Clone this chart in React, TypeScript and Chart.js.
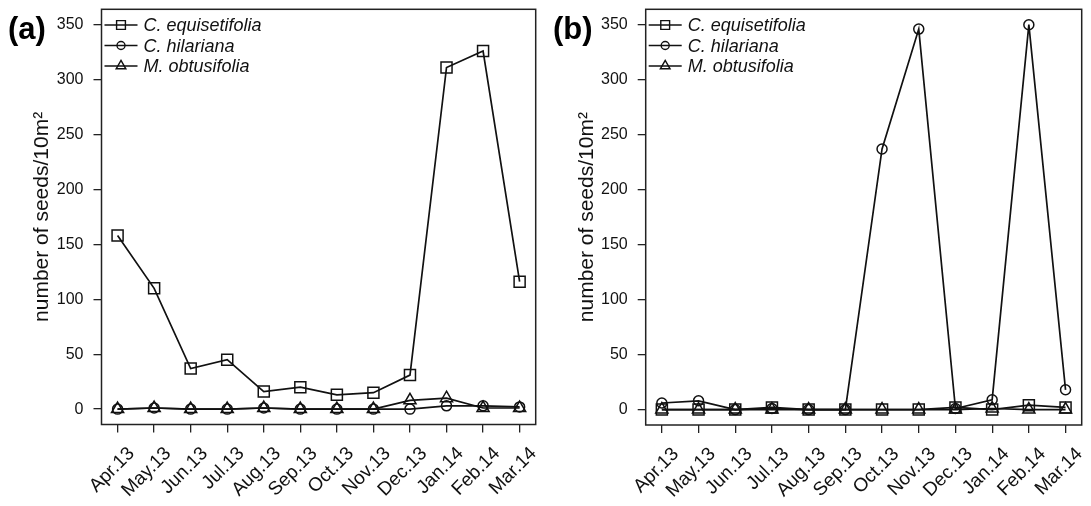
import React, { useEffect, useRef } from 'react';
import { Chart, registerables } from 'chart.js';

Chart.register(...registerables);

// ---------- data ----------
const months = ['Apr.13', 'May.13', 'Jun.13', 'Jul.13', 'Aug.13', 'Sep.13', 'Oct.13', 'Nov.13', 'Dec.13', 'Jan.14', 'Feb.14', 'Mar.14'];
const yTicks = [0, 50, 100, 150, 200, 250, 300, 350];
const seriesNames = ['C. equisetifolia', 'C. hilariana', 'M. obtusifolia'];
const panelLabels = ['(a)', '(b)'];
const yTitle = 'number of seeds/10m²';

// panel (a)
const equisetifoliaA = [158, 110, 37, 45, 16, 20, 13, 15, 31, 311, 326, 116];
const hilarianaA = [0, 1, 0, 0, 1, 0, 0, 0, 0, 3, 3, 2];
const obtusifoliaA = [0, 1, 0, 0, 1, 0, 0, 0, 8, 10, 1, 1];

// panel (b)
const equisetifoliaB = [0, 0, 0, 2, 0, 0, 0, 0, 2, 0, 4, 2];
const hilarianaB = [6, 8, 0, 1, 0, 0, 237, 346, 1, 9, 350, 18];
const obtusifoliaB = [0, 0, 0, 0, 0, 0, 0, 0, 0, 1, 0, 0];

// ---------- styles ----------
const FONT = '"Liberation Sans", Arial, Helvetica, sans-serif';
const INK = '#111';
const markerStyles = ['rect', 'circle', 'triangle'];
const markerRadii = [7.8, 5, 7];

Chart.defaults.font.family = FONT;

type Geo = { canvasLeft: number; canvasWidth: number; areaLeft: number; areaRight: number; areaTop: number; areaBottom: number };

const geos: Geo[] = [
  { canvasLeft: 0, canvasWidth: 545, areaLeft: 101.5, areaRight: 538.5, areaTop: 5, areaBottom: 424.5 },
  { canvasLeft: 545, canvasWidth: 546, areaLeft: 100.7, areaRight: 537, areaTop: 5, areaBottom: 425 },
];

function drawMarker(ctx: CanvasRenderingContext2D, style: string, x: number, y: number, r: number) {
  ctx.beginPath();
  if (style === 'rect') {
    const s = Math.SQRT1_2 * r;
    ctx.rect(x - s, y - s, 2 * s, 2 * s);
  } else if (style === 'circle') {
    ctx.arc(x, y, r, 0, Math.PI * 2);
  } else {
    let rad = 0;
    ctx.moveTo(x + Math.sin(rad) * r, y - Math.cos(rad) * r);
    rad += (2 * Math.PI) / 3;
    ctx.lineTo(x + Math.sin(rad) * r, y - Math.cos(rad) * r);
    rad += (2 * Math.PI) / 3;
    ctx.lineTo(x + Math.sin(rad) * r, y - Math.cos(rad) * r);
    ctx.closePath();
  }
  ctx.stroke();
}

function makePlugin(panelIndex: number) {
  return {
    id: 'panelDecor' + panelIndex,
    afterDraw(chart: any) {
      const ctx: CanvasRenderingContext2D = chart.ctx;
      const a = chart.chartArea;
      ctx.save();
      // frame
      ctx.strokeStyle = '#222';
      ctx.lineWidth = 1.5;
      ctx.strokeRect(a.left, a.top, a.right - a.left, a.bottom - a.top);

      // legend
      const rows = [25, 45.5, 66];
      ctx.font = 'italic 18px ' + FONT;
      ctx.textBaseline = 'middle';
      ctx.textAlign = 'left';
      seriesNames.forEach((name, i) => {
        const y = rows[i];
        const x0 = a.left + 3;
        const x1 = a.left + 36;
        ctx.strokeStyle = INK;
        ctx.lineWidth = 1.6;
        ctx.beginPath();
        ctx.moveTo(x0, y);
        ctx.lineTo(x1, y);
        ctx.stroke();
        ctx.lineWidth = 1.4;
        drawMarker(ctx, markerStyles[i], (x0 + x1) / 2, y, markerRadii[i] * 0.8);
        ctx.fillStyle = INK;
        ctx.fillText(name, a.left + 42, y + 1);
      });

      // panel label
      ctx.font = 'bold 31px ' + FONT;
      ctx.textBaseline = 'alphabetic';
      ctx.textAlign = 'left';
      ctx.fillStyle = '#000';
      ctx.fillText(panelLabels[panelIndex], 8, 39);
      ctx.restore();
    },
  };
}

function makeConfig(panelIndex: number, series: number[][]) {
  const g = geos[panelIndex];
  return {
    type: 'line' as const,
    data: {
      datasets: series.map((vals, si) => ({
        label: seriesNames[si],
        data: vals.map((y, i) => ({ x: i + 1, y })),
        borderColor: INK,
        borderWidth: 1.7,
        pointStyle: markerStyles[si],
        pointRadius: markerRadii[si],
        pointBorderWidth: 1.5,
        pointBorderColor: INK,
        pointBackgroundColor: 'rgba(0,0,0,0)',
        fill: false,
        tension: 0,
      })),
    },
    options: {
      responsive: false,
      animation: false,
      events: [],
      layout: { padding: { left: 0, top: g.areaTop, right: g.canvasWidth - g.areaRight, bottom: 0 } },
      plugins: { legend: { display: false }, tooltip: { enabled: false }, title: { display: false } },
      scales: {
        x: {
          type: 'linear',
          bounds: 'data',
          min: 0.56,
          max: 12.44,
          afterBuildTicks: (s: any) => {
            s.ticks = months.map((_, i) => ({ value: i + 1 }));
          },
          ticks: {
            autoSkip: false,
            minRotation: 45,
            maxRotation: 45,
            padding: 10,
            labelOffset: 14,
            color: INK,
            font: { size: 19 },
            callback: (v: number) => months[Math.round(v) - 1] ?? '',
          },
          grid: { drawOnChartArea: false, drawTicks: true, tickLength: 8, color: '#222', tickColor: '#222', lineWidth: 1.3 },
          border: { display: false },
          afterFit: (s: any) => {
            s.height = 506 - g.areaBottom;
            s.paddingLeft = 0;
            s.paddingRight = 0;
          },
        },
        y: {
          type: 'linear',
          bounds: 'data',
          min: -14,
          max: 364,
          afterBuildTicks: (s: any) => {
            s.ticks = yTicks.map((v) => ({ value: v }));
          },
          ticks: { padding: 10, color: INK, font: { size: 16 } },
          grid: { drawOnChartArea: false, drawTicks: true, tickLength: 8, color: '#222', tickColor: '#222', lineWidth: 1.3 },
          border: { display: false },
          title: { display: true, text: yTitle, color: INK, font: { size: 21 }, padding: { top: 30, bottom: 0 } },
          afterFit: (s: any) => {
            s.width = g.areaLeft;
            s.paddingTop = 0;
            s.paddingBottom = 0;
          },
        },
      },
    },
    plugins: [makePlugin(panelIndex)],
  };
}

function Panel({ index, series }: { index: number; series: number[][] }) {
  const ref = useRef<HTMLCanvasElement>(null);
  const g = geos[index];
  useEffect(() => {
    const chart = new Chart(ref.current as HTMLCanvasElement, makeConfig(index, series) as any);
    return () => chart.destroy();
  }, [index, series]);
  return (
    <canvas
      ref={ref}
      width={g.canvasWidth}
      height={506}
      style={{ position: 'absolute', left: g.canvasLeft, top: 0, width: g.canvasWidth, height: 506 }}
    />
  );
}

const seriesA = [equisetifoliaA, hilarianaA, obtusifoliaA];
const seriesB = [equisetifoliaB, hilarianaB, obtusifoliaB];

export default function App() {
  return (
    <div style={{ position: 'fixed', left: 0, top: 0, width: 1091, height: 506, background: '#fff', overflow: 'hidden' }}>
      <Panel index={0} series={seriesA} />
      <Panel index={1} series={seriesB} />
    </div>
  );
}
